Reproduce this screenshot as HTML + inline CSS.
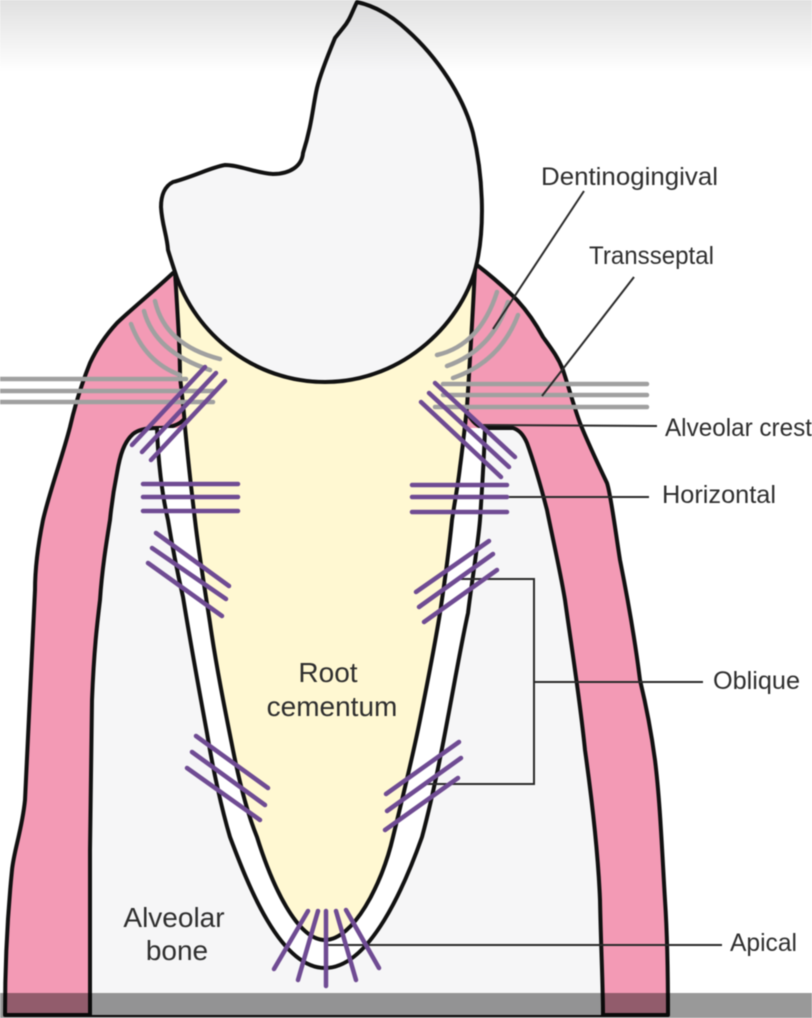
<!DOCTYPE html>
<html>
<head>
<meta charset="utf-8">
<style>
html,body{margin:0;padding:0;background:#fff;width:812px;height:1018px;overflow:hidden}
svg{display:block;filter:blur(.4px)}
text{font-family:"Liberation Sans",sans-serif;fill:#2e2e2e}
</style>
</head>
<body>
<svg width="812" height="1018" viewBox="0 0 812 1018" xmlns="http://www.w3.org/2000/svg">
<defs>
<linearGradient id="top" x1="0" y1="0" x2="0" y2="1">
<stop offset="0" stop-color="#000" stop-opacity=".12"/>
<stop offset="1" stop-color="#000" stop-opacity="0"/>
</linearGradient>
</defs>
<rect width="812" height="1018" fill="#fff"/>

<!-- gingiva -->
<path d="M173 273 C155 290,135 306,117 323 C105 336,96 350,90 363 C82 383,75 405,70 427 C62 458,50 490,43 520 C38 545,35 570,35 590 C33 640,30 700,25 800 C22 830,14 850,12 870 C7 920,5 970,5 1015 L668 1015 C668 960,667 930,665 900 C662 850,660 800,655 760 C651 730,646 705,640 680 C635 640,628 600,620 560 C616 535,611 495,607 483 C597 462,588 443,580 423 C575 410,569 388,563 370 C558 357,551 348,543 337 C535 322,527 311,517 300 C505 288,490 275,477 265 Z" fill="#f39ab5" stroke="#111" stroke-width="4" stroke-linejoin="round"/>

<!-- bone -->
<path d="M90 1015 C90 960,90 900,90 850 C91 800,91 750,92 700 C94 650,97 625,100 600 C102 570,106 545,110 520 C112 500,114 488,117 473 C120 455,124 442,133 434 C139 429,148 428,157 428 L513 428 C520 430,524 436,527 443 C535 465,541 487,547 510 C553 540,560 570,565 600 C572 650,580 700,585 750 C592 800,598 850,600 900 C601 950,603 985,603 1015 Z" fill="#f6f6f7"/>
<path d="M90 1015 C90 960,90 900,90 850 C91 800,91 750,92 700 C94 650,97 625,100 600 C102 570,106 545,110 520 C112 500,114 488,117 473 C120 455,124 442,133 434 C139 429,148 428,157 428 C170 428,180 425,185 418" fill="none" stroke="#111" stroke-width="4" stroke-linecap="round"/>
<path d="M467 412 C472 422,478 427,485 428 L513 428 C520 430,524 436,527 443 C535 465,541 487,547 510 C553 540,560 570,565 600 C572 650,580 700,585 750 C592 800,598 850,600 900 C601 950,603 985,603 1015" fill="none" stroke="#111" stroke-width="4" stroke-linecap="round"/>

<!-- periodontal space -->
<path d="M157 428 C158 460,162 495,168 520 C172 545,178 575,183 597 C190 640,200 695,207 733 C213 770,222 810,230 837 C248 885,280 968,325 968 C370 968,405 885,422 837 C432 800,441 755,448 717 C455 680,462 640,468 613 C472 580,478 545,480 520 C482 490,484 460,485 428 Z" fill="#fff"/>
<path d="M157 428 C158 460,162 495,168 520 C172 545,178 575,183 597 C190 640,200 695,207 733 C213 770,222 810,230 837 C248 885,280 968,325 968 C370 968,405 885,422 837 C432 800,441 755,448 717 C455 680,462 640,468 613 C472 580,478 545,480 520 C482 490,484 460,485 428" fill="none" stroke="#111" stroke-width="4"/>

<!-- root -->
<path d="M175 272 C178 320,180 350,180 377 C182 395,184 410,185 427 C188 460,192 495,195 520 C199 555,205 590,210 623 C216 665,225 710,233 750 C240 785,248 815,257 837 C272 885,297 940,325 940 C353 940,382 885,393 837 C402 800,412 760,420 720 C427 685,434 650,440 613 C445 580,449 550,452 520 C455 500,458 485,460 467 C463 445,465 425,467 407 C470 360,473 310,475 267 Z" fill="#fff8d2" stroke="#111" stroke-width="4" stroke-linejoin="round"/>

<!-- crown -->
<path d="M357 2 C352 12,350 20,343 28 L335 38 C328 55,320 75,317 88 C313 105,312 125,303 153 C302 166,290 174,273 174 C255 173,240 165,225 165 C212 167,195 176,173 182 C165 186,161 195,161 207 C162 225,167 235,168 250 C171 260,173 266,175 272 C195 335,255 382,325 382 C405 382,465 320,477 262 C485 225,483 175,473 133 C463 95,437 57,407 30 C392 16,375 6,357 2 Z" fill="#f6f6f7" stroke="#111" stroke-width="4" stroke-linejoin="round"/>

<!-- grey fibres -->
<g fill="none" stroke="#a0a0a0" stroke-width="4.5" stroke-linecap="round">
<path d="M155 301 Q165 345,220 359"/>
<path d="M144 311 Q155 352,210 370"/>
<path d="M131 324 Q145 362,180 375"/>
<path d="M0 379H186"/>
<path d="M0 391H213"/>
<path d="M0 402H213"/>
<path d="M497 292 Q480 345,437 355"/>
<path d="M508 302 Q492 350,447 366"/>
<path d="M518 315 Q500 362,453 378"/>
<path d="M443 384H647"/>
<path d="M443 395H647"/>
<path d="M435 407H647"/>
</g>

<!-- leaders under purple -->
<g fill="none" stroke="#2a2a2a" stroke-width="2">
<path d="M584 191L493 329"/>
<path d="M634 277L542 396"/>
<path d="M483 425L657 426"/>
<path d="M463 497H649"/>
<path d="M458 579H534V784H423"/>
<path d="M534 682H703"/>
<path d="M325 945H722"/>
</g>

<!-- purple fibres -->
<g fill="none" stroke="#6f4b93" stroke-width="4.5" stroke-linecap="round">
<path d="M132 445L205 367M142 452L216 373M151 460L225 381"/>
<path d="M435 383L515 457M429 393L509 467M421 402L501 477"/>
<path d="M143 484H238M143 497H238M143 511H238"/>
<path d="M412 485H507M412 497H507M412 512H507"/>
<path d="M156 533L229 586M152 548L226 599M148 563L222 616"/>
<path d="M196 736L268 788M192 752L265 805M187 768L260 820"/>
<path d="M416 592L489 541M419 607L493 554M424 622L497 570"/>
<path d="M386 794L459 742M387 811L461 758M385 830L458 778"/>
<path d="M308 911L274 969M318 911L298 980M326 911V986M336 911L356 980M346 910L379 968"/>
</g>

<!-- labels -->
<text x="328" y="682" font-size="28" text-anchor="middle">Root</text>
<text x="332" y="716" font-size="28" text-anchor="middle">cementum</text>
<text x="174" y="927" font-size="28" text-anchor="middle">Alveolar</text>
<text x="177" y="960" font-size="28" text-anchor="middle">bone</text>
<text x="541" y="185" font-size="25" textLength="177" lengthAdjust="spacingAndGlyphs">Dentinogingival</text>
<text x="589" y="264" font-size="25" textLength="125" lengthAdjust="spacingAndGlyphs">Transseptal</text>
<text x="665" y="436" font-size="25" textLength="147" lengthAdjust="spacingAndGlyphs">Alveolar crest</text>
<text x="662" y="503" font-size="25" textLength="114" lengthAdjust="spacingAndGlyphs">Horizontal</text>
<text x="713" y="689" font-size="25" textLength="87" lengthAdjust="spacingAndGlyphs">Oblique</text>
<text x="730" y="951" font-size="25" textLength="67" lengthAdjust="spacingAndGlyphs">Apical</text>

<!-- overlays -->
<rect x="0" y="0" width="812" height="72" fill="url(#top)"/>
<rect x="0" y="993" width="812" height="25" fill="#000" fill-opacity=".4"/>
</svg>
</body>
</html>
